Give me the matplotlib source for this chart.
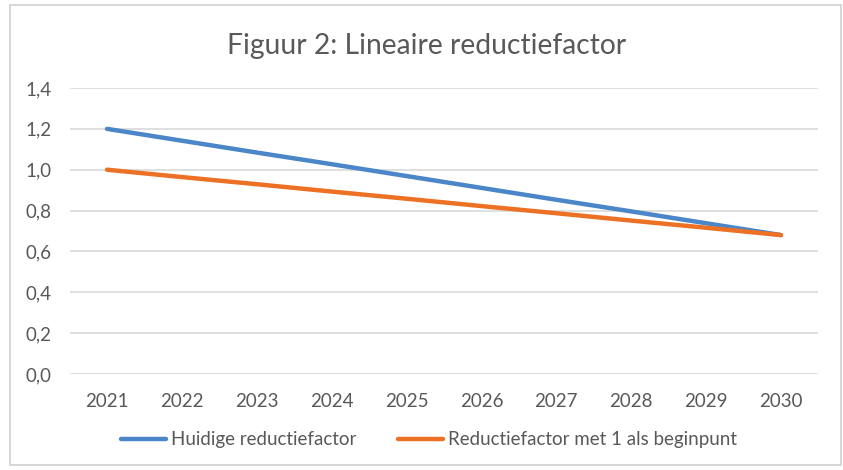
import matplotlib.pyplot as plt
from matplotlib.patches import Rectangle
from matplotlib.lines import Line2D

years = ["2021", "2022", "2023", "2024", "2025", "2026", "2027", "2028", "2029", "2030"]
huidige = [1.200, 1.142, 1.084, 1.027, 0.969, 0.911, 0.853, 0.796, 0.738, 0.680]
begin_een = [1.000, 0.964, 0.929, 0.893, 0.858, 0.822, 0.787, 0.751, 0.716, 0.680]
yticks = [0.0, 0.2, 0.4, 0.6, 0.8, 1.0, 1.2, 1.4]

plt.rcParams['font.family'] = ['Lato', 'DejaVu Sans']
txt = "#595959"
blue = "#4a86c8"
orange = "#ed7124"

W, H = 843, 470
fig = plt.figure(figsize=(W / 100, H / 100), dpi=100)
fig.patches.append(Rectangle((10 / W, 1 - 465 / H), 831 / W, 460 / H,
                             transform=fig.transFigure, fill=False,
                             edgecolor="#d0d0d0", linewidth=1.2))

ax = fig.add_axes([69.6 / W, 1 - 374 / H, (818.4 - 69.6) / W, (374 - 88) / H])
x = list(range(len(years)))
ax.plot(x, huidige, color=blue, linewidth=3.2, solid_capstyle="round")
ax.plot(x, begin_een, color=orange, linewidth=3.2, solid_capstyle="round")

ax.set_xlim(-0.5, len(years) - 0.5)
ax.set_ylim(0, 1.4)
ax.set_xticks(x)
ax.set_xticklabels(years)
ax.set_yticks(yticks)
ax.set_yticklabels([f"{v:.1f}".replace(".", ",") for v in yticks])
ax.grid(axis="y", color="#d9d9d9", linewidth=1.2)
ax.set_axisbelow(True)
for s in ax.spines.values():
    s.set_visible(False)
ax.tick_params(length=0, labelsize=13.5, labelcolor=txt)
ax.tick_params(axis="x", pad=14)
ax.tick_params(axis="y", pad=13)

fig.text(0.5 + 5 / W, 1 - 46 / H, "Figuur 2: Lineaire reductiefactor", ha="center",
         va="center", fontsize=20.3, color=txt)

handles = [Line2D([], [], color=blue, linewidth=3.2, solid_capstyle="round"),
           Line2D([], [], color=orange, linewidth=3.2, solid_capstyle="round")]
fig.legend(handles, ["Huidige reductiefactor", "Reductiefactor met 1 als beginpunt"],
           loc="center", bbox_to_anchor=(429 / W, 1 - 440 / H), ncol=2, frameon=False,
           fontsize=13.5, labelcolor=txt, handlelength=2.4, handletextpad=0.27,
           columnspacing=2.2)

fig.savefig("out.png", dpi=100)
